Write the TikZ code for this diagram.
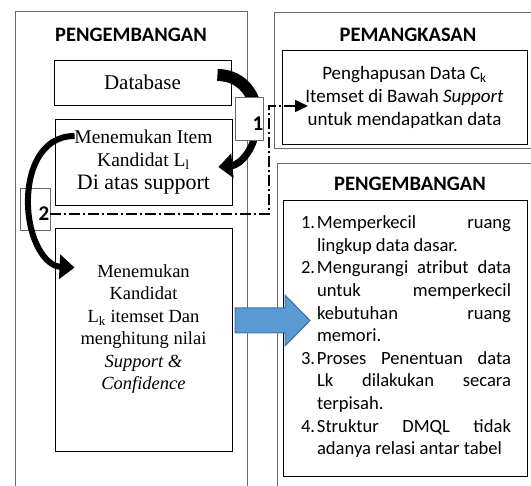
\documentclass[tikz,border=0pt]{standalone}
\usepackage{fontspec}
\setmainfont{Liberation Serif}
\setsansfont{Carlito}
\usetikzlibrary{arrows.meta, positioning, calc}
\definecolor{panelgray}{RGB}{105,105,105}
\definecolor{arrowblue}{RGB}{91,155,213}
\definecolor{arrowedge}{RGB}{65,113,156}
\newcommand{\listnum}[1]{\par\hangindent=16pt\hangafter=1\noindent\makebox[16pt][l]{#1}\ignorespaces}

\begin{document}
\begin{tikzpicture}[x=1pt, y=-1pt,
  panel/.style={draw=panelgray, line width=0.9pt},
  heading/.style={font=\sffamily\bfseries\fontsize{20.5}{24}\selectfont, inner sep=0pt},
  stepbox/.style={draw, line width=0.9pt, minimum width=177pt, align=center, font=\fontsize{19.5}{23}\selectfont, inner sep=0pt},
  sansbox/.style={draw, line width=0.9pt, align=center, font=\sffamily\fontsize{19}{23}\selectfont, inner sep=0pt},
  tagbox/.style={draw=panelgray, fill=white, line width=0.9pt, inner sep=0pt},
  tagnum/.style={font=\sffamily\bfseries\fontsize{21}{24}\selectfont, inner sep=0pt},
  bendarrow/.style={line cap=butt},
  dashdot/.style={line width=1.6pt, dash pattern=on 11pt off 3pt on 2pt off 3pt}
]
  \useasboundingbox (0,0) rectangle (531,486);

  % panels
  \draw[panel] (15,486) -- (15,11) -- (247,11) -- (247,486);
  \draw[panel] (531,12) -- (274,12) -- (274,148) -- (531,148);
  \draw[panel] (531,163) -- (277,163) -- (277,486);

  \node[heading] (ttlleft) at (131,35) {PENGEMBANGAN};
  \node[heading] (ttlprune) at (408,35) {PEMANGKASAN};
  \node[heading] (ttlright) at (410,184) {PENGEMBANGAN};

  % left column
  \node[stepbox, minimum height=45pt, font=\fontsize{21}{24}\selectfont] (db) at (142.5,82.5) {Database};
  \node[stepbox, minimum height=86pt] (item) at (143.5,162) {Menemukan Item\\Kandidat L\textsubscript{l}\\{\fontsize{22}{24}\selectfont Di atas support}};
  \node[stepbox, minimum height=223pt] (cand) at (143.5,339.5) {};
  \node[align=center, font=\fontsize{18.5}{22.4}\selectfont, inner sep=0pt] (candtxt) at (143.5,329) {Menemukan\\Kandidat\\L\textsubscript{k} itemset Dan\\menghitung nilai\\\textit{Support \&}\\\textit{Confidence}};

  % right column
  \node[sansbox, minimum width=245pt, minimum height=94pt] (prune) at (404.5,97) {Penghapusan Data C\textsubscript{k}\\Itemset di Bawah \textit{Support}\\untuk mendapatkan data};
  \node[sansbox, minimum width=244pt, minimum height=276pt] (lst) at (405,338) {};
  \node[font=\sffamily\fontsize{18.6}{22.6}\selectfont, inner sep=0pt, text width=210pt, align=justify] (lsttxt) at (406,332) {%
    \listnum{1.}Memperkecil ruang\linebreak lingkup data dasar.
    \listnum{2.}Mengurangi atribut data\linebreak untuk memperkecil\linebreak kebutuhan ruang\linebreak memori.
    \listnum{3.}Proses Penentuan data\linebreak Lk dilakukan secara\linebreak terpisah.
    \listnum{4.}Struktur DMQL tidak\linebreak adanya relasi antar tabel\par};

  \draw[arrowedge, fill=arrowblue, line width=1pt] (235,308) -- (285,308) -- (285,295) -- (310,320.5) -- (285,346) -- (285,333) -- (235,333) -- cycle;

  % step 2 loop
  \node[tagbox, minimum width=30pt, minimum height=42pt] (lbl2) at (35,209) {};
  \draw[bendarrow, line width=6pt, -{Triangle[length=15pt,width=24pt]}]
    ([xshift=20pt,yshift=26pt]item.west) .. controls (40,136) and (27,172) .. (28,205)
    .. controls (29,240) and (45,266) .. ([xshift=20pt,yshift=-40pt]cand.north west);
  \node[tagnum] (n2) at (44,214) {2};

  \coordinate (turn) at (269,106);
  \coordinate (pin) at (308,106);
  \draw[dashdot, -{Triangle[length=13pt,width=12pt]}] (n2.east) -| (turn) -- (pin);

  % step 1, thick half hidden under the tag
  \coordinate (bend1) at (257,120);
  \draw[bendarrow, line width=12pt]
    ([xshift=-14pt,yshift=7.5pt]db.east) .. controls (242,75) and (257,95) .. (bend1);
  \draw[bendarrow, line width=7pt, -{Triangle[length=14pt,width=24pt]}]
    (bend1) .. controls (257,148) and (240,165) .. ([xshift=-14pt,yshift=-5pt]item.east);
  \node[tagbox, minimum width=28pt, minimum height=43pt] (lbl1) at (249,118.5) {};
  \node[tagnum] (n1) at (258,124) {1};
\end{tikzpicture}
\end{document}
